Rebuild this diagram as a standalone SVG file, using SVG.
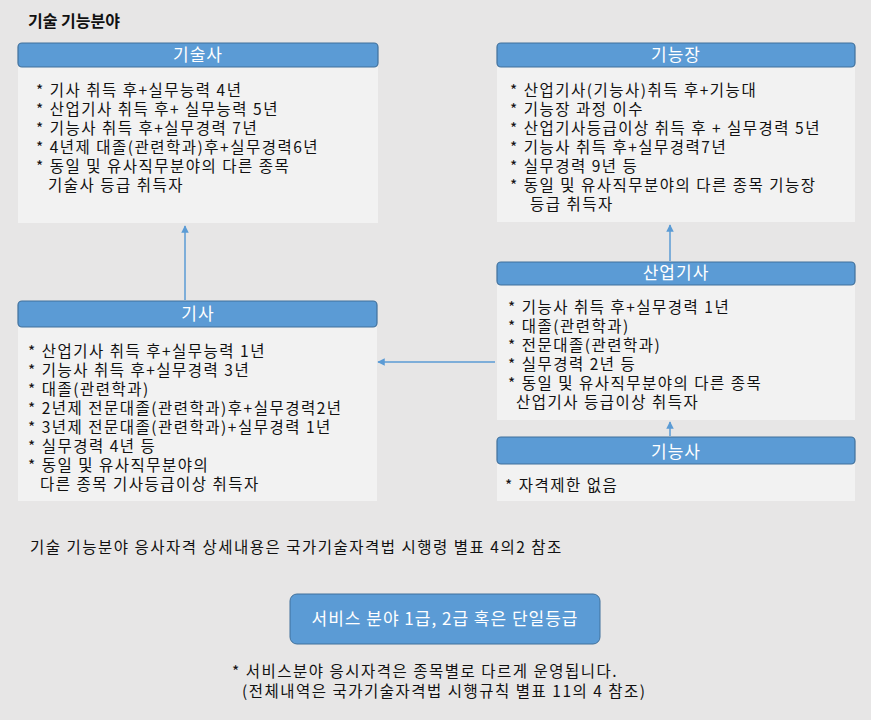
<svg xmlns="http://www.w3.org/2000/svg" width="871" height="720" viewBox="0 0 871 720">
<style>
text{font-family:"Noto Sans CJK KR","Noto Sans",sans-serif;fill:#111}
.hd{fill:#5b9bd5;stroke:#41719c;stroke-width:1.2}
.bd{fill:#f2f2f2}
.ht{fill:#fff;font-size:17px;letter-spacing:1px;text-anchor:middle}
.t{font-size:15.5px;letter-spacing:1.5px}
.c{stroke:#5b9bd5;stroke-width:1.5;fill:none;marker-end:url(#a)}
</style>
<defs><marker id="a" viewBox="0 0 10 10" refX="9" refY="5" markerWidth="5" markerHeight="5" orient="auto"><path d="M0,0L10,5L0,10z" fill="#5b9bd5"/></marker></defs>
<rect width="871" height="720" fill="#e7e6e6"/>
<text x="28" y="27" style="font-size:16px;font-weight:bold">기술 기능분야</text>
<g id="connectors">
<path class="c" d="M185,300V226"/>
<path class="c" d="M670,261V225"/>
<path class="c" d="M670,436V422"/>
<path class="c" d="M495,362H378"/>
</g>
<g id="n1">
<rect class="bd" x="18" y="67" width="360" height="156"/>
<rect class="hd" x="18" y="43" width="360" height="24" rx="4"/>
<text class="ht" x="198" y="61">기술사</text>
<text class="t" x="36" y="96">* 기사 취득 후+실무능력 4년</text>
<text class="t" x="36" y="115">* 산업기사 취득 후+ 실무능력 5년</text>
<text class="t" x="36" y="134">* 기능사 취득 후+실무경력 7년</text>
<text class="t" x="36" y="153">* 4년제 대졸(관련학과)후+실무경력6년</text>
<text class="t" x="36" y="172">* 동일 및 유사직무분야의 다른 종목</text>
<text class="t" x="48" y="191">기술사 등급 취득자</text>
</g>
<g id="n2">
<rect class="bd" x="497" y="67" width="358" height="155"/>
<rect class="hd" x="497" y="43" width="358" height="24" rx="4"/>
<text class="ht" x="676" y="61">기능장</text>
<text class="t" x="510" y="96">*  산업기사(기능사)취득 후+기능대</text>
<text class="t" x="510" y="115">*  기능장 과정 이수</text>
<text class="t" x="510" y="134">*  산업기사등급이상 취득 후 + 실무경력 5년</text>
<text class="t" x="510" y="153">*  기능사 취득 후+실무경력7년</text>
<text class="t" x="510" y="172">*  실무경력 9년 등</text>
<text class="t" x="510" y="191">*   동일 및 유사직무분야의 다른 종목 기능장</text>
<text class="t" x="530" y="210">등급 취득자</text>
</g>
<g id="n3">
<rect class="bd" x="497" y="285" width="358" height="135"/>
<rect class="hd" x="497" y="262" width="358" height="23" rx="4"/>
<text class="ht" x="676" y="279">산업기사</text>
<text class="t" x="508" y="313">* 기능사 취득 후+실무경력 1년</text>
<text class="t" x="508" y="332">* 대졸(관련학과)</text>
<text class="t" x="508" y="351">* 전문대졸(관련학과)</text>
<text class="t" x="508" y="370">* 실무경력 2년 등</text>
<text class="t" x="508" y="389">* 동일 및 유사직무분야의 다른 종목</text>
<text class="t" x="516" y="408">산업기사 등급이상 취득자</text>
</g>
<g id="n4">
<rect class="bd" x="497" y="464" width="358" height="37"/>
<rect class="hd" x="497" y="437" width="358" height="27" rx="4"/>
<text class="ht" x="676" y="458">기능사</text>
<text class="t" x="505" y="491">* 자격제한 없음</text>
</g>
<g id="n5">
<rect class="bd" x="18" y="327" width="359" height="174"/>
<rect class="hd" x="18" y="301" width="359" height="26" rx="4"/>
<text class="ht" x="198" y="320">기사</text>
<text class="t" x="28" y="357">* 산업기사 취득 후+실무능력 1년</text>
<text class="t" x="28" y="376">* 기능사 취득 후+실무경력 3년</text>
<text class="t" x="28" y="395">* 대졸(관련학과)</text>
<text class="t" x="28" y="414">* 2년제 전문대졸(관련학과)후+실무경력2년</text>
<text class="t" x="28" y="433">* 3년제 전문대졸(관련학과)+실무경력 1년</text>
<text class="t" x="28" y="452">* 실무경력 4년 등</text>
<text class="t" x="28" y="471">* 동일 및 유사직무분야의</text>
<text class="t" x="40" y="490">다른 종목 기사등급이상 취득자</text>
</g>
<text class="t" x="30" y="553">기술 기능분야 응사자격 상세내용은 국가기술자격법 시행령 별표 4의2 참조</text>
<g id="n6">
<rect x="290" y="594" width="310" height="50" rx="7" fill="#5b9bd5" stroke="#41719c"/>
<text class="ht" x="445" y="625">서비스 분야 1급, 2급 혹은 단일등급</text>
</g>
<text class="t" x="232" y="677">* 서비스분야 응시자격은 종목별로 다르게 운영됩니다.</text>
<text class="t" x="242" y="697">(전체내역은 국가기술자격법 시행규칙 별표 11의 4 참조)</text>
</svg>
